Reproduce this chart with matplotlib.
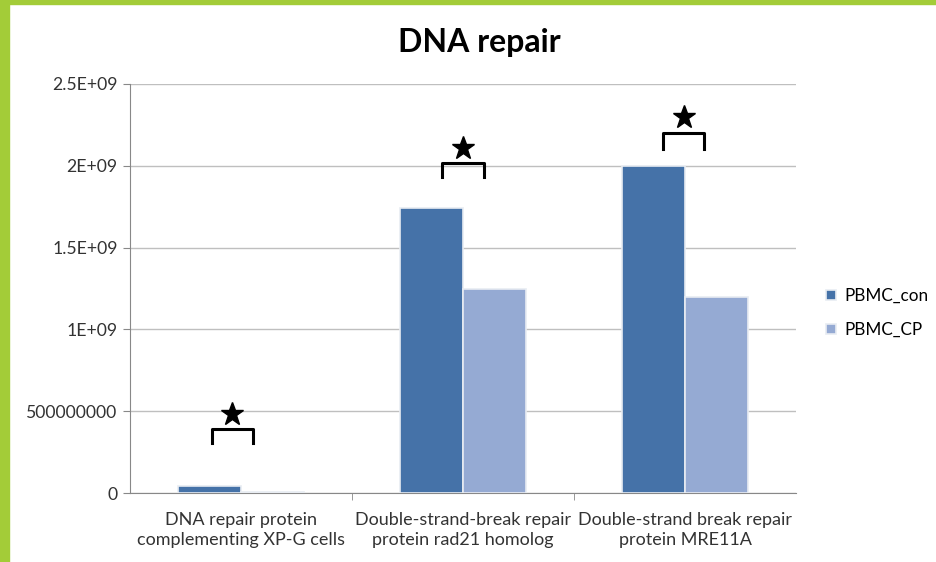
import numpy as np
import matplotlib.pyplot as plt
from matplotlib.patches import Rectangle

plt.rcParams['font.family'] = ['Lato', 'DejaVu Sans']

categories = ['DNA repair protein\ncomplementing XP-G cells',
              'Double-strand-break repair\nprotein rad21 homolog',
              'Double-strand break repair\nprotein MRE11A']
pbmc_con = [4.0e7, 1.74e9, 2.0e9]
pbmc_cp = [4.0e6, 1.245e9, 1.195e9]
yticks = [0, 5e8, 1e9, 1.5e9, 2e9, 2.5e9]
ytick_labels = ['0', '500000000', '1E+09', '1.5E+09', '2E+09', '2.5E+09']
# significance markers: bracket top, leg bottom, star height
bracket_top = [3.9e8, 2.02e9, 2.2e9]
bracket_bottom = [3.05e8, 1.93e9, 2.1e9]
star_y = [4.85e8, 2.11e9, 2.3e9]
bracket_shift = [-0.04, 0.0, -0.005]

col_con = '#4572A8'
col_cp = '#95AAD3'

fig = plt.figure(figsize=(9.36, 5.62), dpi=100)
# slide frame
fig.patches.append(Rectangle((0, 0), 9/936, 1, transform=fig.transFigure, color='#A3CC38', zorder=0))
fig.patches.append(Rectangle((0, 1-4/562), 1, 4/562, transform=fig.transFigure, color='#A3CC38', zorder=0))

ax = fig.add_axes([130/936, 1-493/562, 666/936, 409/562])
x = np.arange(len(categories))
w = 1/3.5
ax.bar(x - w/2, pbmc_con, w, color=col_con, edgecolor='#E8ECF2', linewidth=1.2, label='PBMC_con', zorder=3)
ax.bar(x + w/2, pbmc_cp, w, color=col_cp, edgecolor='#E8ECF2', linewidth=1.2, label='PBMC_CP', zorder=3)

ax.set_xlim(-0.5, 2.5)
ax.set_ylim(0, 2.5e9)
ax.set_yticks(yticks)
ax.set_yticklabels(ytick_labels)
ax.set_xticks(x)
ax.set_xticklabels(categories, fontsize=13, color='#333333', linespacing=1.3)
ax.set_xticks([0.5, 1.5], minor=True)
ax.tick_params(axis='x', which='major', length=0, pad=14)
ax.tick_params(axis='x', which='minor', length=5, color='#888888')
ax.tick_params(axis='y', length=5, color='#888888', labelsize=12.7, labelcolor='#333333', pad=4)
ax.yaxis.grid(True, color='#BFBFBF', linewidth=1)
ax.set_axisbelow(True)
for s in ['top', 'right']:
    ax.spines[s].set_visible(False)
for s in ['left', 'bottom']:
    ax.spines[s].set_color('#888888')

bw = 0.185
for i, (dx, top, bot, sy) in enumerate(zip(bracket_shift, bracket_top, bracket_bottom, star_y)):
    bx = x[i] + dx
    ax.plot([bx - bw/2, bx - bw/2, bx + bw/2, bx + bw/2], [bot, top, top, bot],
            color='black', linewidth=2.2, solid_joinstyle='round', zorder=4)
    ax.plot([bx], [sy], marker='*', color='black', markersize=17, zorder=4)

ax.set_title('DNA repair', fontsize=23, fontweight='bold', pad=23, x=0.525)
ax.legend(loc='center left', bbox_to_anchor=(1.035, 0.44), frameon=False, borderaxespad=0,
          fontsize=12.3, handlelength=0.6, handleheight=0.6, handletextpad=0.45, labelspacing=1.05)

plt.savefig('out.png', dpi=100)
